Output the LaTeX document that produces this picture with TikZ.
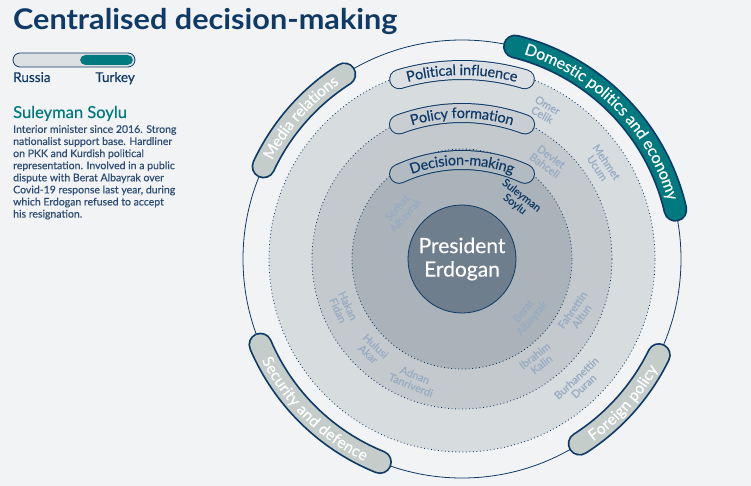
\documentclass[tikz,border=0pt]{standalone}
\usepackage{fontspec}
\setmainfont{Lato}[FakeBold=0.35]
\newfontfamily\titlefont{Lato Bold}
\usetikzlibrary{decorations.text}
\definecolor{bg}{HTML}{F2F3F5}
\definecolor{navy}{HTML}{0F3A67}
\definecolor{tealc}{HTML}{00797F}
\definecolor{ringA}{HTML}{D7DCDF}
\definecolor{ringB}{HTML}{C3C9CD}
\definecolor{ringC}{HTML}{AAB3B9}
\definecolor{pillA}{HTML}{DCE0E3}
\definecolor{pillB}{HTML}{C8CED2}
\definecolor{pillC}{HTML}{B2BBC1}
\definecolor{pres}{HTML}{6F7E8C}
\definecolor{pillgray}{HTML}{C4CDC9}
\definecolor{namecol}{HTML}{97ABC2}
\definecolor{bodycol}{HTML}{2E4D76}
\definecolor{togglebg}{HTML}{DDE0E3}
\tikzset{
  dotring/.style={navy, line width=0.8pt, dash pattern=on 0.9pt off 2.6pt},
  nm/.style={text=namecol, font=\fontsize{10.8}{11}\selectfont, align=center, inner sep=0pt},
  hl/.style={nm, text=navy},
  innerborder/.style={navy, line width=20pt, line cap=round},
  outerborder/.style={navy, line width=24pt, line cap=round},
  outerfill/.style={line width=20.5pt, line cap=round},
}
\begin{document}
\begin{tikzpicture}[x=1pt,y=1pt]
\useasboundingbox (0,0) rectangle (751,-486);
\fill[bg] (0,0) rectangle (751,-486);
\coordinate (C) at (462,-259);

% title
\node[anchor=base west, inner sep=0pt, text=navy] (title) at (13,-30) {\scalebox{1.075}[1]{\titlefont\fontsize{28.5}{30}\selectfont Centralised decision-making}};

% toggle
\draw[navy, fill=togglebg, line width=0.8pt, rounded corners=7pt] (13,-53) rectangle (135,-67);
\fill[tealc, rounded corners=5.5pt] (80,-55) rectangle (133,-65);
\node[anchor=base west, inner sep=0pt, text=navy, font=\fontsize{13.5}{13.5}\selectfont] (russia) at (13,-82) {Russia};
\node[anchor=base east, inner sep=0pt, text=navy, font=\fontsize{13.5}{13.5}\selectfont] (turkey) at (135,-82) {Turkey};

% left text
\node[anchor=base west, inner sep=0pt, text=tealc, font=\fontsize{16.5}{16.5}\selectfont] (who) at (13,-118) {Suleyman Soylu};
\node[anchor=north west, inner sep=0pt, text=bodycol, align=left, font=\fontsize{10.5}{12.1}\selectfont] (bio) at (13,-125) {Interior minister since 2016. Strong\\nationalist support base. Hardliner\\on PKK and Kurdish political\\representation. Involved in a public\\dispute with Berat Albayrak over\\Covid-19 response last year, during\\which Erdogan refused to accept\\his resignation.};

% rings
\fill[ringA] (C) circle (193);
\fill[ringB] (C) circle (150);
\fill[ringC] (C) circle (110);
\draw[dotring] (C) circle (193);
\draw[dotring] (C) circle (150);
\draw[dotring] (C) circle (110);
\draw[navy, line width=0.8pt] (C) circle (219);

% president
\node[circle, minimum size=108pt, fill=pres, draw=navy, line width=0.8pt, text=white, align=center, font=\fontsize{21}{23.5}\selectfont] (pres) at (C) {President\\Erdogan};

% inner pills
\coordinate (P1) at (462,-290);
\coordinate (P2) at (462,-293);
\coordinate (P3) at (462,-310);
\draw[innerborder] (P1) ++(106.6:220) arc[start angle=106.6, end angle=73.4, radius=220];
\draw[pillA, line width=18pt, line cap=round] (P1) ++(106.6:220) arc[start angle=106.6, end angle=73.4, radius=220];
\path[decorate, decoration={text along path, text={|\fontsize{14.5}{14.5}\selectfont\color{navy}|Political influence}, text align=center, raise=-5pt}] (P1) ++(106.6:220) arc[start angle=106.6, end angle=73.4, radius=220];

\draw[innerborder] (P2) ++(110.5:180) arc[start angle=110.5, end angle=69.5, radius=180];
\draw[pillB, line width=18pt, line cap=round] (P2) ++(110.5:180) arc[start angle=110.5, end angle=69.5, radius=180];
\path[decorate, decoration={text along path, text={|\fontsize{14.5}{14.5}\selectfont\color{navy}|Policy formation}, text align=center, raise=-5pt}] (P2) ++(110.5:180) arc[start angle=110.5, end angle=69.5, radius=180];

\draw[innerborder] (P3) ++(114.8:150) arc[start angle=114.8, end angle=65.2, radius=150];
\draw[pillC, line width=18pt, line cap=round] (P3) ++(114.8:150) arc[start angle=114.8, end angle=65.2, radius=150];
\path[decorate, decoration={text along path, text={|\fontsize{14.5}{14.5}\selectfont\color{navy}|Decision-making}, text align=center, raise=-5pt}] (P3) ++(114.8:150) arc[start angle=114.8, end angle=65.2, radius=150];

% names
\node[nm, rotate=-30] (n1) at (545,-110) {Omer\\Celik};
\node[nm, rotate=-56] (n2) at (602,-165) {Mehmet\\Ucum};
\node[nm, rotate=-36] (n3) at (548,-161) {Devlet\\Bahceli};
\node[hl, rotate=-38] (n4) at (518,-200) {Suleyman\\Soylu};
\node[nm, rotate=48] (n5) at (402,-212) {Serhat\\Albayrak};
\node[nm, rotate=-65] (n6) at (343,-308) {Hakan\\Fidan};
\node[nm, rotate=-43] (n7) at (372,-350) {Hulusi\\Akar};
\node[nm, rotate=-22] (n8) at (413,-380) {Adnan\\Tanriverdi};
\node[nm, rotate=50] (n9) at (528,-315) {Berat\\Albayrak};
\node[nm, rotate=55] (n10) at (577,-313) {Fahrettin\\Altun};
\node[nm, rotate=38] (n11) at (538,-360) {Ibrahim\\Kalin};
\node[nm, rotate=43] (n12) at (580,-382) {Burhanettin\\Duran};

% outer pills
\draw[outerborder] (C) ++(155:219) arc[start angle=155, end angle=122.5, radius=219];
\draw[outerfill, pillgray] (C) ++(155:219) arc[start angle=155, end angle=122.5, radius=219];
\path[decorate, decoration={text along path, text={|\fontsize{15.5}{15.5}\selectfont\color{white}|Media relations}, text align=center, raise=-5pt}] (C) ++(155:219) arc[start angle=155, end angle=122.5, radius=219];

\draw[outerborder] (C) ++(76:219) arc[start angle=76, end angle=13, radius=219];
\draw[outerfill, tealc] (C) ++(76:219) arc[start angle=76, end angle=13, radius=219];
\path[decorate, decoration={text along path, text={|\fontsize{16}{16}\selectfont\color{white}|Domestic politics and economy}, text align=center, raise=-5pt}] (C) ++(76:219) arc[start angle=76, end angle=13, radius=219];

\draw[outerborder] (C) ++(203:219) arc[start angle=203, end angle=248, radius=219];
\draw[outerfill, pillgray] (C) ++(203:219) arc[start angle=203, end angle=248, radius=219];
\path[decorate, decoration={text along path, text={|\fontsize{15.5}{15.5}\selectfont\color{white}|Security and defence}, text align=center, raise=-5.5pt}] (C) ++(203:219) arc[start angle=203, end angle=248, radius=219];

\draw[outerborder] (C) ++(302.5:219) arc[start angle=302.5, end angle=334, radius=219];
\draw[outerfill, pillgray] (C) ++(302.5:219) arc[start angle=302.5, end angle=334, radius=219];
\path[decorate, decoration={text along path, text={|\fontsize{15.5}{15.5}\selectfont\color{white}|Foreign policy}, text align=center, raise=-5.5pt}] (C) ++(302.5:219) arc[start angle=302.5, end angle=334, radius=219];
\end{tikzpicture}
\end{document}
